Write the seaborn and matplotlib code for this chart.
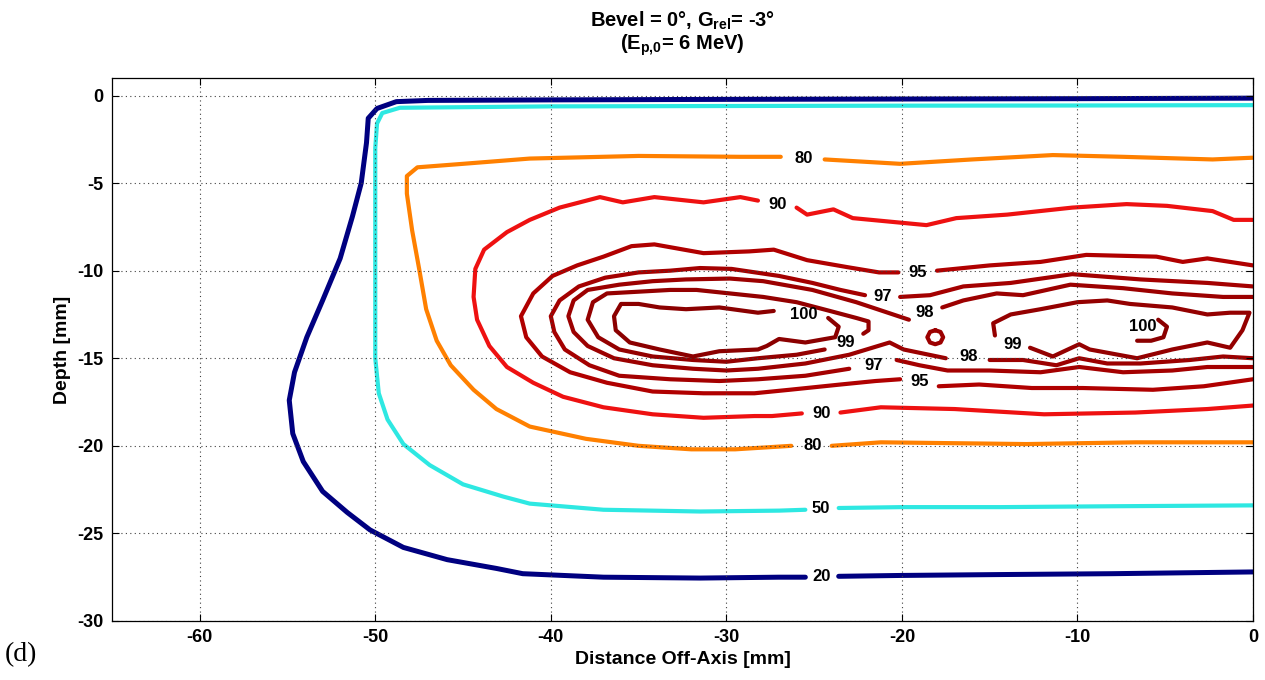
import matplotlib
matplotlib.use("Agg")
import matplotlib.pyplot as plt
import numpy as np
import pandas as pd
import seaborn as sns

nan = np.nan

# isodose lines in % of max dose
# x = distance off-axis [mm], y = depth [mm]; nan leaves the gap for the inline label
x20 = [0, -10, -20, -30, -40, -47, -48.8, -49.9, -50.4, -50.5, -50.8, -51.3,
       -52.0, -53.0, -53.9, -54.6, -54.9, -54.7, -54.1, -53.0, -51.6, -50.3, -48.4, -45.9,
       -43.1, -41.6, -37.0, -31.5, -27.0, -25.5, nan, -23.6, -20.0, -14.4, -8.0, 0]
y20 = [-0.15, -0.18, -0.2, -0.22, -0.25, -0.28, -0.35, -0.74, -1.3, -2.7, -5.0, -6.9,
       -9.3, -11.7, -13.8, -15.8, -17.4, -19.3, -20.9, -22.6, -23.8, -24.8, -25.8, -26.5,
       -27.0, -27.3, -27.5, -27.55, -27.5, -27.5, nan, -27.45, -27.4, -27.35, -27.3, -27.2]

x50 = [0, -10, -20, -30, -40, -48.6, -49.6, -49.9, -50.0, -50.0, -50.0, -50.0,
       -49.8, -49.3, -48.4, -46.9, -45.0, -42.7, -41.2, -37.0, -31.5, -27.0, -25.5,
       nan, -23.6, -20.0, -14.4, -8.0, 0]
y50 = [-0.55, -0.57, -0.58, -0.6, -0.62, -0.7, -1.0, -1.6, -3.0, -8.0, -12.0, -15.0,
       -17.0, -18.5, -19.9, -21.1, -22.2, -22.9, -23.3, -23.65, -23.75, -23.7, -23.65,
       nan, -23.55, -23.5, -23.5, -23.45, -23.4]

x80 = [0, -2.3, -7.4, -11.4, -16.0, -20.1, -24.4, nan, -26.9, -29.2, -35.0, -41.2,
       -45.0, -47.6, -48.2, -48.2, -47.9, -47.5, -47.1, -46.5, -45.7, -44.4, -43.1, -41.2,
       -38.0, -35.0, -32.0, -29.5, -26.3, nan, -24.0, -21.2, -12.9, -6.7, 0]
y80 = [-3.55, -3.65, -3.5, -3.4, -3.65, -3.9, -3.65, nan, -3.5, -3.5, -3.45, -3.6,
       -3.9, -4.1, -4.6, -5.6, -7.7, -9.9, -12.2, -14.0, -15.4, -16.8, -17.9, -18.9,
       -19.6, -20.0, -20.2, -20.2, -20.0, nan, -20.0, -19.8, -19.9, -19.8, -19.8]

x90 = [0, -1.1, -2.3, -4.9, -7.2, -10.3, -14.0, -16.9, -18.6, -20.7, -22.8, -23.9,
       -25.4, -26.0, nan, -28.2, -29.2, -31.3, -34.1, -35.9, -37.2, -39.5, -41.2, -42.5,
       -43.8, -44.3, -44.4, -44.2, -43.5, -42.5, -41.0, -39.3, -37.0, -34.2, -31.3, -28.4,
       -27.4, -25.7, nan, -23.5, -21.2, -17.0, -11.9, -6.7, -2.6, 0]
y90 = [-7.1, -7.1, -6.6, -6.3, -6.2, -6.4, -6.8, -7.0, -7.4, -7.2, -7.0, -6.5,
       -6.8, -6.4, nan, -6.0, -5.8, -6.1, -5.8, -6.1, -5.8, -6.4, -7.1, -7.8,
       -8.8, -9.9, -11.5, -12.8, -14.3, -15.5, -16.4, -17.2, -17.8, -18.2, -18.4, -18.3,
       -18.3, -18.15, nan, -18.1, -17.8, -17.9, -18.2, -18.1, -17.9, -17.7]

x95 = [0, -1.3, -2.6, -4.0, -5.5, -9.5, -12.1, -15.0, -18.0, nan, -20.2, -21.3,
       -23.1, -25.4, -27.3, -28.7, -31.3, -34.1, -35.4, -37.0, -38.5, -39.9, -41.0, -41.7,
       -41.4, -40.5, -38.9, -36.8, -34.2, -31.3, -28.4, -26.4, -23.5, -21.5, -20.1, nan,
       -17.9, -15.6, -12.6, -9.7, -5.7, -2.8, 0]
y95 = [-9.7, -9.5, -9.3, -9.5, -9.2, -9.1, -9.5, -9.7, -10.0, nan, -10.1, -10.1,
       -9.8, -9.4, -8.8, -8.9, -9.0, -8.5, -8.6, -9.2, -9.7, -10.3, -11.3, -12.6,
       -13.8, -14.9, -15.8, -16.4, -16.9, -17.0, -17.0, -16.8, -16.5, -16.3, -16.2, nan,
       -16.6, -16.5, -16.7, -16.7, -16.8, -16.6, -16.2]

x97 = [0, -2.6, -6.4, -10.3, -13.8, -16.5, -18.4, -20.1, nan, -22.1, -23.5, -25.1,
       -27.0, -29.7, -31.5, -33.2, -35.0, -36.9, -38.4, -39.5, -40.0, -39.8, -39.2, -37.8,
       -36.1, -33.2, -30.4, -28.2, -25.5, -23.0, nan, -20.3, -19.0, -17.4, -15.0, -12.1,
       -9.9, -7.4, -4.6, -2.6, 0]
y97 = [-10.9, -10.7, -10.5, -10.2, -10.7, -10.9, -11.4, -11.5, nan, -11.4, -11.1, -10.7,
       -10.3, -9.9, -9.85, -10.0, -10.1, -10.4, -10.9, -11.7, -12.6, -13.5, -14.5, -15.4,
       -16.0, -16.2, -16.3, -16.2, -16.0, -15.6, nan, -15.1, -15.4, -15.7, -15.7, -15.8,
       -15.5, -15.8, -15.7, -15.5, -15.5]

x98 = [0, -1.7, -4.6, -7.4, -10.4, -13.1, -14.6, -16.5, -17.7, nan, -19.6, -21.1,
       -22.6, -25.1, -27.9, -29.8, -32.3, -34.2, -36.1, -37.9, -38.7, -39.0, -38.7, -37.9,
       -36.4, -34.2, -31.9, -30.0, -28.2, -25.5, -23.0, -20.7, -19.9, -17.5, nan, -15.0,
       -13.1, -11.2, -9.9, -8.3, -6.4, -3.6, -1.7, 0,
       nan, -18.1, -17.8, -17.65, -17.8, -18.1, -18.4, -18.55, -18.4, -18.1]
y98 = [-11.5, -11.5, -11.3, -11.0, -10.8, -11.4, -11.3, -11.7, -12.1, nan, -12.8, -12.3,
       -11.8, -11.1, -10.6, -10.45, -10.5, -10.6, -10.8, -11.1, -11.7, -12.6, -13.5, -14.3,
       -15.0, -15.4, -15.6, -15.7, -15.6, -15.3, -14.8, -14.1, -14.5, -15.0, nan, -15.1,
       -15.1, -15.4, -15.0, -15.3, -15.3, -15.1, -14.9, -15.0,
       nan, -13.4, -13.5, -13.8, -14.1, -14.2, -14.1, -13.8, -13.5, -13.4]

x99 = [-22.2, -21.9, -21.9, -22.6, -24.1, -26.0, -27.9, -29.8, -31.7, -33.2, -35.0, -36.8,
       -37.6, -37.9, -37.3, -36.1, -34.2, -31.9, -30.0, -28.2, -26.0, -24.4, nan,
       -14.7, -14.8, -13.8, -12.1, -10.0, -8.3, -7.0, -4.6, -2.6, -1.3, -0.2, -0.6,
       -1.3, -2.6, -4.6, -6.6, -9.3, -9.9, -11.4, -12.7]
y99 = [-13.6, -13.4, -12.9, -12.7, -12.3, -11.8, -11.5, -11.3, -11.1, -11.1, -11.2, -11.3,
       -11.8, -12.8, -13.8, -14.5, -14.9, -15.1, -15.2, -15.0, -14.8, -14.5, nan,
       -13.7, -13.0, -12.5, -12.2, -11.8, -11.7, -11.9, -12.1, -12.5, -12.4, -12.4, -13.4,
       -14.4, -14.1, -14.5, -15.0, -14.5, -14.2, -14.9, -14.4]

x100 = [-27.3, -28.2, -30.4, -32.3, -33.8, -35.0, -36.0, -36.4, -36.3, -35.5, -33.8, -31.9,
        -30.4, -28.2, -27.7, -27.0, -25.5, -23.8, -23.6, -24.2, nan,
        -5.4, -4.9, -5.1, -5.8, -6.6]
y100 = [-12.3, -12.4, -12.1, -12.2, -12.1, -11.9, -11.9, -12.6, -13.4, -14.1, -14.5, -14.9,
        -14.6, -14.5, -14.3, -13.9, -14.1, -13.8, -13.2, -12.7, nan,
        -12.8, -13.2, -13.8, -14.0, -14.0]

# inline contour labels
label_text = ["20", "50", "80", "80", "90", "90", "95", "95",
              "97", "97", "98", "98", "99", "99", "100", "100"]
label_x = [-24.6, -24.6, -25.6, -25.1, -27.1, -24.6, -19.1, -19.0,
           -21.1, -21.6, -18.7, -16.2, -23.2, -13.7, -25.6, -6.3]
label_y = [-27.45, -23.6, -3.6, -20.0, -6.2, -18.15, -10.1, -16.3,
           -11.5, -15.4, -12.4, -14.9, -14.1, -14.2, -12.5, -13.2]

COLORS = {
    20: "#000080", 50: "#2ee8e2", 80: "#ff8000", 90: "#ee1111", 95: "#b00000",
    97: "#a40000", 98: "#9c0000", 99: "#940000", 100: "#8b0000",
}


def contour_frame() -> pd.DataFrame:
    paths = {
        20: (x20, y20), 50: (x50, y50), 80: (x80, y80), 90: (x90, y90),
        95: (x95, y95), 97: (x97, y97), 98: (x98, y98), 99: (x99, y99),
        100: (x100, y100),
    }
    frames = []
    for level, (xs, ys) in paths.items():
        df = pd.DataFrame({"x": xs, "y": ys})
        df["piece"] = df["x"].isna().cumsum()
        df = df.dropna()
        df["level"] = level
        df["unit"] = [f"{level}_{p}" for p in df["piece"]]
        frames.append(df)
    return pd.concat(frames, ignore_index=True)


def main() -> None:
    sns.set_theme(style="white")
    plt.rcParams.update({
        "font.family": ["Liberation Sans", "DejaVu Sans"],
        "mathtext.fontset": "custom",
        "mathtext.rm": "Liberation Sans:bold",
        "mathtext.it": "Liberation Sans:italic:bold",
        "axes.unicode_minus": False,
        "text.color": "black",
    })

    df = contour_frame()
    fig = plt.figure(figsize=(12.65, 6.8), dpi=100)
    ax = fig.add_axes([0.0885, 0.0868, 0.902, 0.7985])

    sns.lineplot(
        data=df, x="x", y="y", hue="level", units="unit", estimator=None,
        sort=False, palette=COLORS, linewidth=3, legend=False, ax=ax,
    )
    # the 20 % line is a bit heavier in the original
    for line in ax.lines:
        if line.get_color() == COLORS[20]:
            line.set_linewidth(3.6)

    for text, lx, ly in zip(label_text, label_x, label_y):
        ax.text(lx, ly, text, ha="center", va="center", fontsize=12,
                fontweight="bold", color="black", zorder=4)

    ax.set_xlim(-65, 0)
    ax.set_ylim(-30, 1)
    ax.set_xticks(np.arange(-60, 1, 10))
    ax.set_yticks(np.arange(-30, 1, 5))
    ax.tick_params(direction="in", length=5, width=0.8, labelsize=13, colors="black",
                   bottom=True, left=True, top=True, right=True, pad=6)
    for lab in ax.get_xticklabels() + ax.get_yticklabels():
        lab.set_fontweight("bold")
    for spine in ax.spines.values():
        spine.set_color("black")
        spine.set_linewidth(0.9)
    ax.grid(True, color="0.25", linestyle=(0, (1, 3)), linewidth=0.8)
    ax.set_axisbelow(False)

    ax.set_xlabel("Distance Off-Axis [mm]", fontsize=14, fontweight="bold", color="black")
    ax.set_ylabel("Depth [mm]", fontsize=14, fontweight="bold", color="black")
    ax.xaxis.set_label_coords(0.5, -0.055)
    ax.yaxis.set_label_coords(-0.036, 0.5)

    fig.text(0.5395, 1 - 21 / 680, r"Bevel = 0°, G$_{\rm rel}$= -3°",
             ha="center", va="center", fontsize=14.5, fontweight="bold")
    fig.text(0.5395, 1 - 45 / 680, r"(E$_{\rm p{,}0}$= 6 MeV)",
             ha="center", va="center", fontsize=14.5, fontweight="bold")
    fig.text(0.004, 1 - 655 / 680, "(d)", ha="left", va="center",
             fontsize=20, family="Liberation Serif")

    fig.savefig("out.png", dpi=100)
    plt.close(fig)


if __name__ == "__main__":
    main()
